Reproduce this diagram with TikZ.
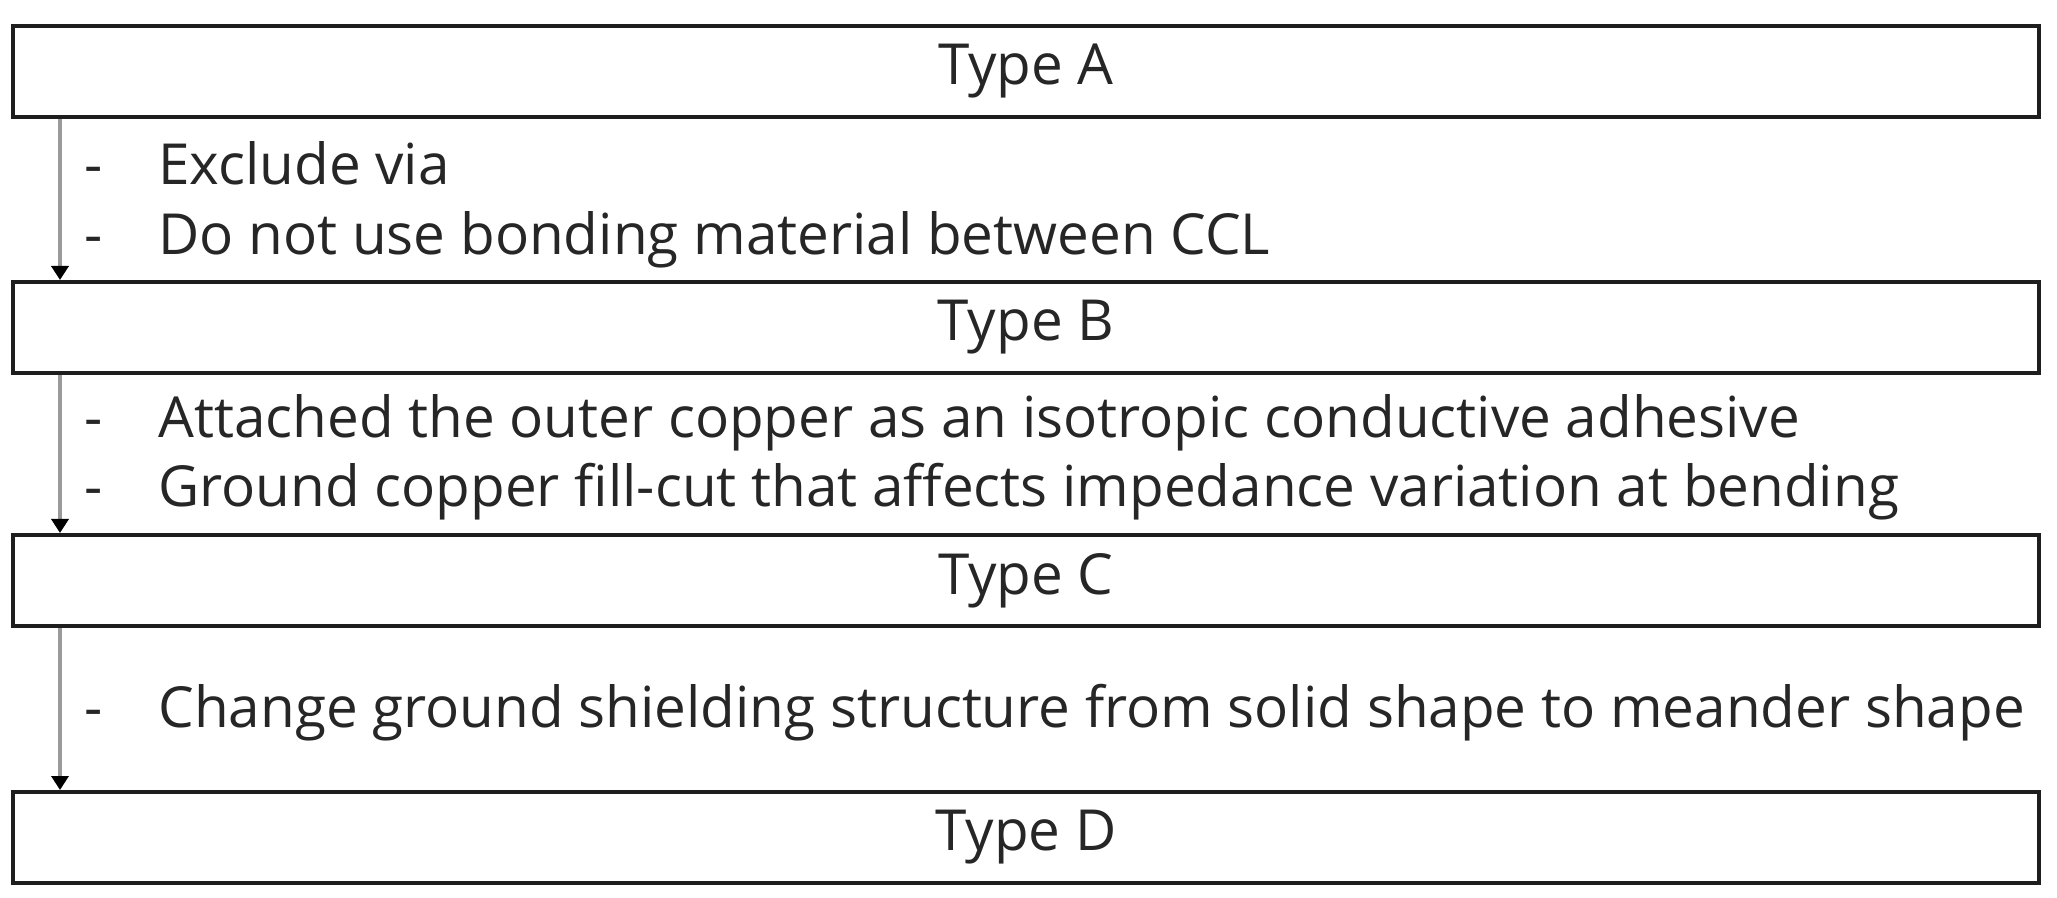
\documentclass[tikz,border=0pt]{standalone}
\usepackage{fontspec}
\setmainfont{Open Sans}
\usepackage{xcolor}
\usetikzlibrary{arrows.meta, positioning}
\definecolor{boxline}{HTML}{1E1E1E}
\definecolor{textgray}{HTML}{262626}
\definecolor{arrowgray}{HTML}{9A9A9A}

\begin{document}
\begin{tikzpicture}[
    x=0.5pt, y=-0.5pt,
    font=\fontsize{28.3}{34}\selectfont,
    typebox/.style={rectangle, draw=boxline, line width=1.9pt, minimum width=1013pt, minimum height=45.5pt, inner sep=0pt, text=textgray, anchor=north west},
    note/.style={anchor=base west, inner sep=0pt, text=textgray},
    arrow/.style={-{Triangle[width=8.5pt,length=7pt,color=black]}, line width=1.9pt, color=arrowgray}
]
\useasboundingbox (0,0) rectangle (2057,898);

% Type boxes
\node[typebox] (typeA) at (11,24) {Type A};
\node[typebox] (typeB) at (11,280) {Type B};
\node[typebox] (typeC) at (11,533) {Type C};
\node[typebox] (typeD) at (11,790) {Type D};

% Notes between boxes
\node[note] (dashA1) at (84,185) {-};
\node[note] (noteA1) at (158,185) {Exclude via};
\node[note] (dashA2) at (84,255) {-};
\node[note] (noteA2) at (158,255) {Do not use bonding material between CCL};

\node[note] (dashB1) at (84,438) {-};
\node[note] (noteB1) at (158,438) {Attached the outer copper as an isotropic conductive adhesive};
\node[note] (dashB2) at (84,507) {-};
\node[note] (noteB2) at (158,507) {Ground copper fill-cut that affects impedance variation at bending};

\node[note] (dashC1) at (84,727) {-};
\node[note] (noteC1) at (158,727) {Change ground shielding structure from solid shape to meander shape};

% Arrows
\draw[arrow] ([xshift=24.5pt]typeA.south west) -- ([xshift=24.5pt]typeB.north west);
\draw[arrow] ([xshift=24.5pt]typeB.south west) -- ([xshift=24.5pt]typeC.north west);
\draw[arrow] ([xshift=24.5pt]typeC.south west) -- ([xshift=24.5pt]typeD.north west);

\end{tikzpicture}
\end{document}
